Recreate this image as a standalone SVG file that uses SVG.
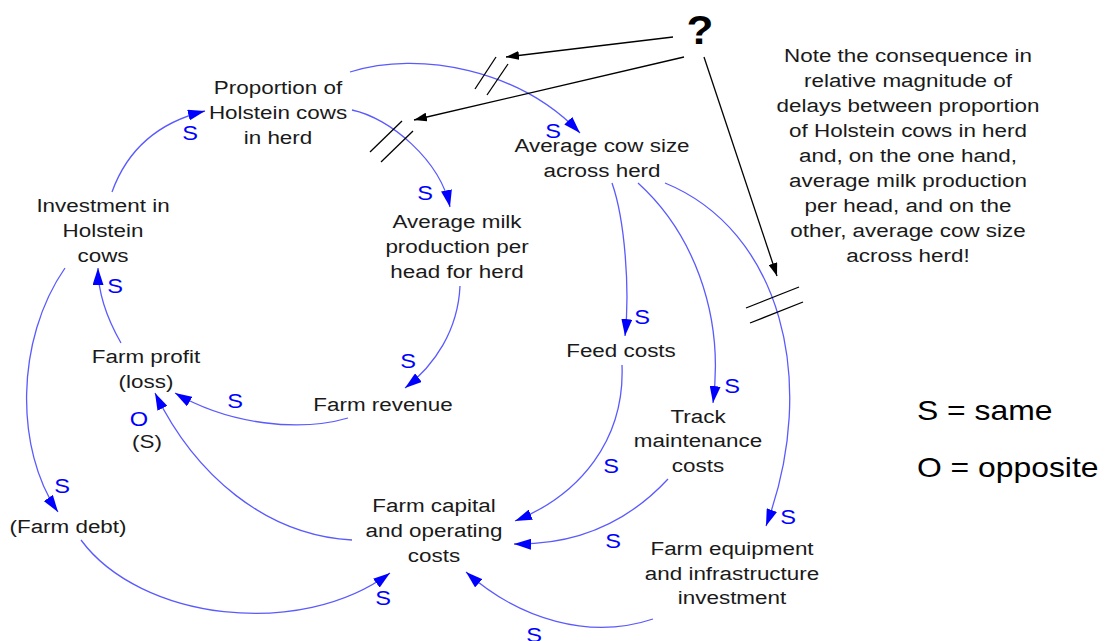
<svg xmlns="http://www.w3.org/2000/svg" width="1115" height="641" viewBox="0 0 1115 641">
  <style>
    text { font-family: "Liberation Sans", Arial, sans-serif; }
    .lbl { font-size: 19px; fill: #1a1a1a; text-anchor: middle; }
    .pol { font-size: 20px; fill: #0000ff; text-anchor: middle; }
    .key { font-size: 27px; fill: #000; }
    .q { font-size: 40px; font-weight: bold; fill: #000; text-anchor: middle; }
    .link { fill: none; stroke: #5a5aff; stroke-width: 1.3; marker-end: url(#ab); }
    .ptr { fill: none; stroke: #000; stroke-width: 1.3; marker-end: url(#ak); }
    .delay { stroke: #000; stroke-width: 1.3; }
  </style>
  <defs>
    <marker id="ab" viewBox="0 0 17 11" refX="17" refY="5.5" markerWidth="17" markerHeight="11" markerUnits="userSpaceOnUse" orient="auto">
      <path d="M0,0 L17,5.5 L0,11 z" fill="#0000ff"/>
    </marker>
    <marker id="ak" viewBox="0 0 13 9" refX="13" refY="4.5" markerWidth="13" markerHeight="9" markerUnits="userSpaceOnUse" orient="auto">
      <path d="M0,0 L13,4.5 L0,9 z" fill="#000"/>
    </marker>
  </defs>

  <rect width="1115" height="641" fill="#fff"/>

  <!-- causal links -->
  <g id="connectors">
    <path class="link" d="M112,192 Q135,128 205,111"/>
    <path class="link" d="M350,72 C420,50 520,70 580,133"/>
    <path class="link" d="M352,110 C390,118 440,160 450,207"/>
    <path class="link" d="M460,286 C458,330 435,365 405,388"/>
    <path class="link" d="M348,418 C300,432 230,425 175,393"/>
    <path class="link" d="M121,343 C105,315 98,290 98,268"/>
    <path class="link" d="M65,268 C15,340 15,450 58,512"/>
    <path class="link" d="M81,540 C140,620 300,640 390,573"/>
    <path class="link" d="M352,540 C265,535 195,475 155,393"/>
    <path class="link" d="M612,183 C625,220 630,290 625,336"/>
    <path class="link" d="M638,183 C690,230 725,310 713,403"/>
    <path class="link" d="M665,183 C780,230 820,380 766,526"/>
    <path class="link" d="M622,365 C625,440 580,495 515,521"/>
    <path class="link" d="M668,479 C630,520 580,545 514,544"/>
    <path class="link" d="M653,619 C590,640 520,620 466,572"/>

    <!-- delay marks -->
    <line class="delay" x1="475" y1="89" x2="496" y2="57"/>
    <line class="delay" x1="487" y1="95" x2="508" y2="64"/>
    <line class="delay" x1="370" y1="152" x2="402" y2="121"/>
    <line class="delay" x1="381" y1="162" x2="413" y2="131"/>
    <line class="delay" x1="746" y1="308" x2="799" y2="287"/>
    <line class="delay" x1="750" y1="323" x2="803" y2="302"/>

    <!-- pointers from the question mark -->
    <path class="ptr" d="M673,37 L506,57"/>
    <path class="ptr" d="M684,57 L414,120"/>
    <path class="ptr" d="M704,57 L777,276"/>

    <!-- polarity labels -->
    <text class="pol" transform="translate(190,140) scale(1.18,1)">S</text>
    <text class="pol" transform="translate(553,138) scale(1.18,1)">S</text>
    <text class="pol" transform="translate(425,200) scale(1.18,1)">S</text>
    <text class="pol" transform="translate(115,293) scale(1.18,1)">S</text>
    <text class="pol" transform="translate(62,493) scale(1.18,1)">S</text>
    <text class="pol" transform="translate(235,408) scale(1.18,1)">S</text>
    <text class="pol" transform="translate(408,368) scale(1.18,1)">S</text>
    <text class="pol" transform="translate(642,324) scale(1.18,1)">S</text>
    <text class="pol" transform="translate(732,393) scale(1.18,1)">S</text>
    <text class="pol" transform="translate(788,524) scale(1.18,1)">S</text>
    <text class="pol" transform="translate(611,473) scale(1.18,1)">S</text>
    <text class="pol" transform="translate(613,548) scale(1.18,1)">S</text>
    <text class="pol" transform="translate(383,605) scale(1.18,1)">S</text>
    <text class="pol" transform="translate(534,642) scale(1.18,1)">S</text>
    <text class="pol" transform="translate(139,426) scale(1.18,1)">O</text>
    <text class="lbl" transform="translate(147,448) scale(1.18,1)">(S)</text>
  </g>

  <g id="proportion-holstein">
    <text class="lbl" transform="translate(278,94) scale(1.18,1)"><tspan x="0">Proportion of</tspan><tspan x="0" dy="25">Holstein cows</tspan><tspan x="0" dy="25">in herd</tspan></text>
  </g>
  <g id="investment-holstein">
    <text class="lbl" transform="translate(103,212) scale(1.18,1)"><tspan x="0">Investment in</tspan><tspan x="0" dy="25">Holstein</tspan><tspan x="0" dy="25">cows</tspan></text>
  </g>
  <g id="farm-profit">
    <text class="lbl" transform="translate(146,363) scale(1.18,1)"><tspan x="0">Farm profit</tspan><tspan x="0" dy="25">(loss)</tspan></text>
  </g>
  <g id="farm-debt">
    <text class="lbl" transform="translate(68,533) scale(1.18,1)">(Farm debt)</text>
  </g>
  <g id="farm-revenue">
    <text class="lbl" transform="translate(383,411) scale(1.18,1)">Farm revenue</text>
  </g>
  <g id="avg-milk">
    <text class="lbl" transform="translate(457,228) scale(1.18,1)"><tspan x="0">Average milk</tspan><tspan x="0" dy="25">production per</tspan><tspan x="0" dy="25">head for herd</tspan></text>
  </g>
  <g id="avg-cow-size">
    <text class="lbl" transform="translate(602,152) scale(1.18,1)"><tspan x="0">Average cow size</tspan><tspan x="0" dy="25">across herd</tspan></text>
  </g>
  <g id="feed-costs">
    <text class="lbl" transform="translate(621,357) scale(1.18,1)">Feed costs</text>
  </g>
  <g id="track-maintenance">
    <text class="lbl" transform="translate(698,423) scale(1.18,1)"><tspan x="0">Track</tspan><tspan x="0" dy="24.5">maintenance</tspan><tspan x="0" dy="24.5">costs</tspan></text>
  </g>
  <g id="farm-capital">
    <text class="lbl" transform="translate(434,512) scale(1.18,1)"><tspan x="0">Farm capital</tspan><tspan x="0" dy="25">and operating</tspan><tspan x="0" dy="25">costs</tspan></text>
  </g>
  <g id="farm-equipment">
    <text class="lbl" transform="translate(732,555) scale(1.18,1)"><tspan x="0">Farm equipment</tspan><tspan x="0" dy="25">and infrastructure</tspan><tspan x="0" dy="24">investment</tspan></text>
  </g>

  <g id="question">
    <text class="q" transform="translate(700,44) scale(1.1,1)">?</text>
  </g>
  <g id="note">
    <text class="lbl" transform="translate(908,62) scale(1.18,1)"><tspan x="0">Note the consequence in</tspan><tspan x="0" dy="25">relative magnitude of</tspan><tspan x="0" dy="25">delays between proportion</tspan><tspan x="0" dy="25">of Holstein cows in herd</tspan><tspan x="0" dy="25">and, on the one hand,</tspan><tspan x="0" dy="25">average milk production</tspan><tspan x="0" dy="25">per head, and on the</tspan><tspan x="0" dy="25">other, average cow size</tspan><tspan x="0" dy="25">across herd!</tspan></text>
  </g>
  <g id="legend">
    <text class="key" transform="translate(917,420) scale(1.18,1)">S = same</text>
    <text class="key" transform="translate(917,477) scale(1.18,1)">O = opposite</text>
  </g>
</svg>
